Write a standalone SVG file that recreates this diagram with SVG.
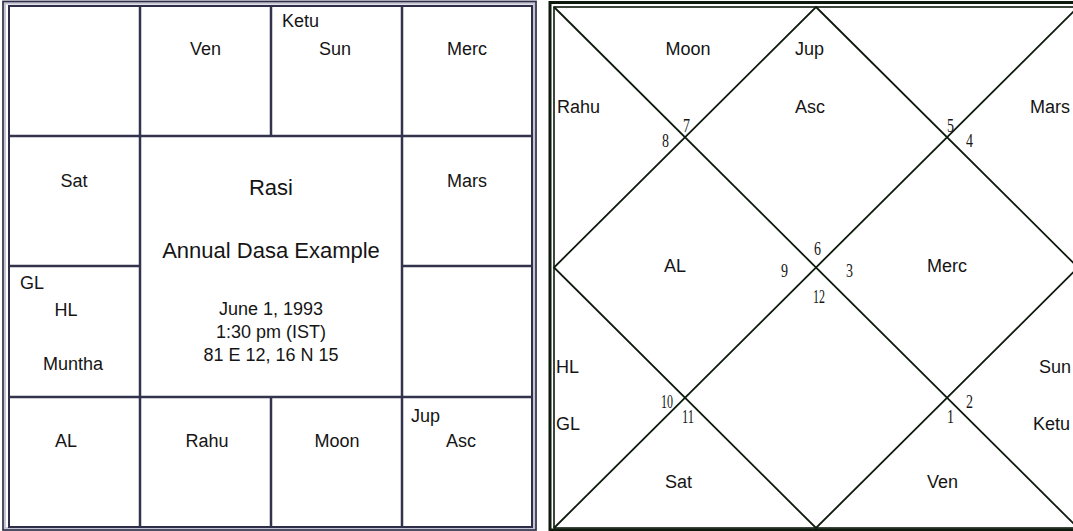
<svg xmlns="http://www.w3.org/2000/svg" width="1073" height="531" viewBox="0 0 1073 531">
<style>
.t{font-family:"Liberation Sans",Arial,sans-serif;font-size:18px;fill:#151515}
.c{text-anchor:middle}
.big{font-size:22px}
.n{font-family:"Liberation Serif","Times New Roman",serif;font-size:18px;fill:#151515}
.g{stroke:#33334d;stroke-width:2.5;fill:none}
.d{stroke:#0d1a0d;stroke-width:1.8;fill:none}
</style>
<rect width="1073" height="531" fill="#ffffff"/>
<!-- left chart frame -->
<g id="left-frame">
<rect x="4" y="2.5" width="531" height="526.5" fill="none" stroke="#c4c4d2" stroke-width="4"/>
<rect x="3" y="1.5" width="533" height="528.5" fill="none" stroke="#2e2e48" stroke-width="1.6"/>
<rect x="9" y="6" width="523" height="521" fill="none" stroke="#2e2e48" stroke-width="2"/>
</g>
<!-- right chart frame -->
<g id="right-frame">
<rect x="550" y="2.5" width="530" height="527.5" fill="none" stroke="#0d1a0d" stroke-width="3"/>
<rect x="554" y="7" width="524" height="521" fill="none" stroke="#0d1a0d" stroke-width="1.6"/>
</g>
<g id="connectors">
<g id="left-grid" class="g">
<line x1="140" y1="6" x2="140" y2="527"/>
<line x1="402" y1="6" x2="402" y2="527"/>
<line x1="271" y1="6" x2="271" y2="136"/>
<line x1="271" y1="397" x2="271" y2="527"/>
<line x1="9" y1="136" x2="532" y2="136"/>
<line x1="9" y1="397" x2="532" y2="397"/>
<line x1="9" y1="266" x2="140" y2="266"/>
<line x1="402" y1="266" x2="532" y2="266"/>
</g>
<g id="right-lines" class="d">
<line x1="554" y1="7" x2="1078" y2="528"/>
<line x1="1078" y1="7" x2="554" y2="528"/>
<polygon points="816,7 1078,267.5 816,528 554,267.5"/>
</g>
</g>
<!-- left chart cells -->
<g id="L-ven"><text class="t c" x="205.5" y="55">Ven</text></g>
<g id="L-ketu-sun"><text class="t" x="282" y="27">Ketu</text><text class="t c" x="335" y="55">Sun</text></g>
<g id="L-merc"><text class="t c" x="467" y="55">Merc</text></g>
<g id="L-sat"><text class="t c" x="74" y="187">Sat</text></g>
<g id="L-mars"><text class="t c" x="467" y="187">Mars</text></g>
<g id="L-center">
<text class="t c big" x="271" y="195">Rasi</text>
<text class="t c big" x="271" y="258">Annual Dasa Example</text>
<text class="t c" x="271" y="315">June 1, 1993</text>
<text class="t c" x="271" y="338">1:30 pm (IST)</text>
<text class="t c" x="271" y="361">81 E 12, 16 N 15</text>
</g>
<g id="L-gl-hl-muntha"><text class="t" x="20" y="289">GL</text><text class="t c" x="66" y="316">HL</text><text class="t c" x="73" y="370">Muntha</text></g>
<g id="L-al"><text class="t c" x="66" y="447">AL</text></g>
<g id="L-rahu"><text class="t c" x="207" y="447">Rahu</text></g>
<g id="L-moon"><text class="t c" x="337" y="447">Moon</text></g>
<g id="L-jup-asc"><text class="t" x="411" y="422">Jup</text><text class="t c" x="461" y="447">Asc</text></g>
<!-- right chart houses -->
<g id="R-h7"><text class="t c" x="688" y="55">Moon</text><text class="n" x="683" y="132" textLength="7" lengthAdjust="spacingAndGlyphs">7</text></g>
<g id="R-h6"><text class="t" x="795" y="55">Jup</text><text class="t" x="795" y="113">Asc</text><text class="n" x="814" y="255" textLength="7" lengthAdjust="spacingAndGlyphs">6</text></g>
<g id="R-h8"><text class="t" x="557" y="113">Rahu</text><text class="n" x="662" y="147" textLength="7" lengthAdjust="spacingAndGlyphs">8</text></g>
<g id="R-h5"><text class="n" x="947" y="132" textLength="7" lengthAdjust="spacingAndGlyphs">5</text></g>
<g id="R-h4"><text class="t" x="1030" y="113">Mars</text><text class="n" x="966" y="147" textLength="7" lengthAdjust="spacingAndGlyphs">4</text></g>
<g id="R-h9"><text class="t" x="664" y="272">AL</text><text class="n" x="781" y="277" textLength="7" lengthAdjust="spacingAndGlyphs">9</text></g>
<g id="R-h3"><text class="t c" x="947" y="272">Merc</text><text class="n" x="846" y="277" textLength="7" lengthAdjust="spacingAndGlyphs">3</text></g>
<g id="R-h12"><text class="n" x="813" y="303" textLength="12" lengthAdjust="spacingAndGlyphs">12</text></g>
<g id="R-h10"><text class="t" x="556" y="373">HL</text><text class="t" x="556" y="430">GL</text><text class="n" x="661" y="408" textLength="12" lengthAdjust="spacingAndGlyphs">10</text></g>
<g id="R-h11"><text class="t" x="665" y="488">Sat</text><text class="n" x="682" y="423" textLength="12" lengthAdjust="spacingAndGlyphs">11</text></g>
<g id="R-h2"><text class="t" x="1039" y="373">Sun</text><text class="t" x="1033" y="430">Ketu</text><text class="n" x="966" y="408" textLength="7" lengthAdjust="spacingAndGlyphs">2</text></g>
<g id="R-h1"><text class="t" x="927" y="488">Ven</text><text class="n" x="947" y="423" textLength="7" lengthAdjust="spacingAndGlyphs">1</text></g>
</svg>
